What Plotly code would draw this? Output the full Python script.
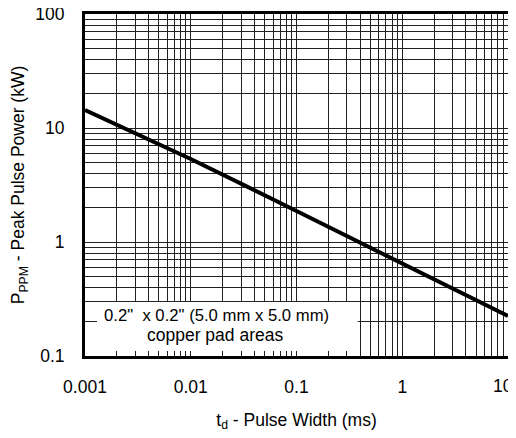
import plotly.graph_objects as go

pulse_width_ms = [0.001, 0.01, 0.1, 1, 10]
peak_power_kw = [14.4, 5.35, 1.87, 0.65, 0.224]

x_tick_vals = [0.001, 0.01, 0.1, 1, 10]
x_tick_text = ["0.001", "0.01", "0.1", "1", "10"]
y_tick_vals = [0.1, 1, 10, 100]
y_tick_text = ["0.1", "1", "10", "100"]

note_line1 = '0.2"  x 0.2" (5.0 mm x 5.0 mm)'
note_line2 = "copper pad areas"

FONT = "Liberation Sans, Arial, sans-serif"
GRID = "#222222"
FS = 17.5

fig = go.Figure()
fig.add_trace(go.Scatter(
    x=pulse_width_ms, y=peak_power_kw, mode="lines",
    line=dict(color="black", width=4), showlegend=False, hoverinfo="skip"))

# page body has an 8px margin; figure sized to fit the 516x438 window
fig.update_layout(
    width=508, height=430,
    margin=dict(l=77, r=8, t=6, b=82, autoexpand=False),
    paper_bgcolor="white", plot_bgcolor="white",
    font=dict(family=FONT, size=FS, color="black"),
)
# last x label sits at the right edge: drawn as an annotation anchored right
axis_x_text = x_tick_text[:-1] + [""]
fig.update_xaxes(
    type="log", range=[-3, 1], automargin=False,
    tickvals=x_tick_vals, ticktext=axis_x_text,
    showgrid=True, gridcolor=GRID, gridwidth=1,
    minor=dict(dtick="D1", showgrid=True, gridcolor=GRID, gridwidth=1, ticks=""),
    showline=True, linecolor="black", linewidth=3, mirror=True,
    ticks="", ticklabelstandoff=13, ticklabeloverflow="allow",
    tickfont=dict(size=FS),
    title=dict(text="t<sub>d</sub> - Pulse Width (ms)", font=dict(size=FS), standoff=18),
    zeroline=False,
)
fig.update_yaxes(
    type="log", range=[-1, 2], automargin=False,
    tickvals=y_tick_vals, ticktext=y_tick_text,
    showgrid=True, gridcolor=GRID, gridwidth=1,
    minor=dict(dtick="D1", showgrid=True, gridcolor=GRID, gridwidth=1, ticks=""),
    showline=True, linecolor="black", linewidth=3, mirror=True,
    ticks="", ticklabelstandoff=14, ticklabeloverflow="allow",
    tickfont=dict(size=FS),
    title=dict(text="P<sub>PPM</sub> - Peak Pulse Power (kW)", font=dict(size=FS), standoff=13),
    zeroline=False,
)
fig.add_annotation(xref="x", yref="paper", x=1, y=0, yshift=-18,
                   text=x_tick_text[-1], showarrow=False,
                   font=dict(size=FS, family=FONT), xanchor="right", yanchor="top",
                   xshift=7)

fig.add_shape(type="rect", xref="paper", yref="paper",
              x0=0.0284, x1=0.645, y0=0.0146, y1=0.158,
              fillcolor="white", line=dict(width=0), layer="above")
fig.add_annotation(xref="paper", yref="paper", x=0.312, y=0.117,
                   text=note_line1, showarrow=False,
                   font=dict(size=16.7, family=FONT), xanchor="center", yanchor="middle")
fig.add_annotation(xref="paper", yref="paper", x=0.3085, y=0.0614,
                   text=note_line2, showarrow=False,
                   font=dict(size=17.5, family=FONT), xanchor="center", yanchor="middle")

fig.write_html("out.html")
